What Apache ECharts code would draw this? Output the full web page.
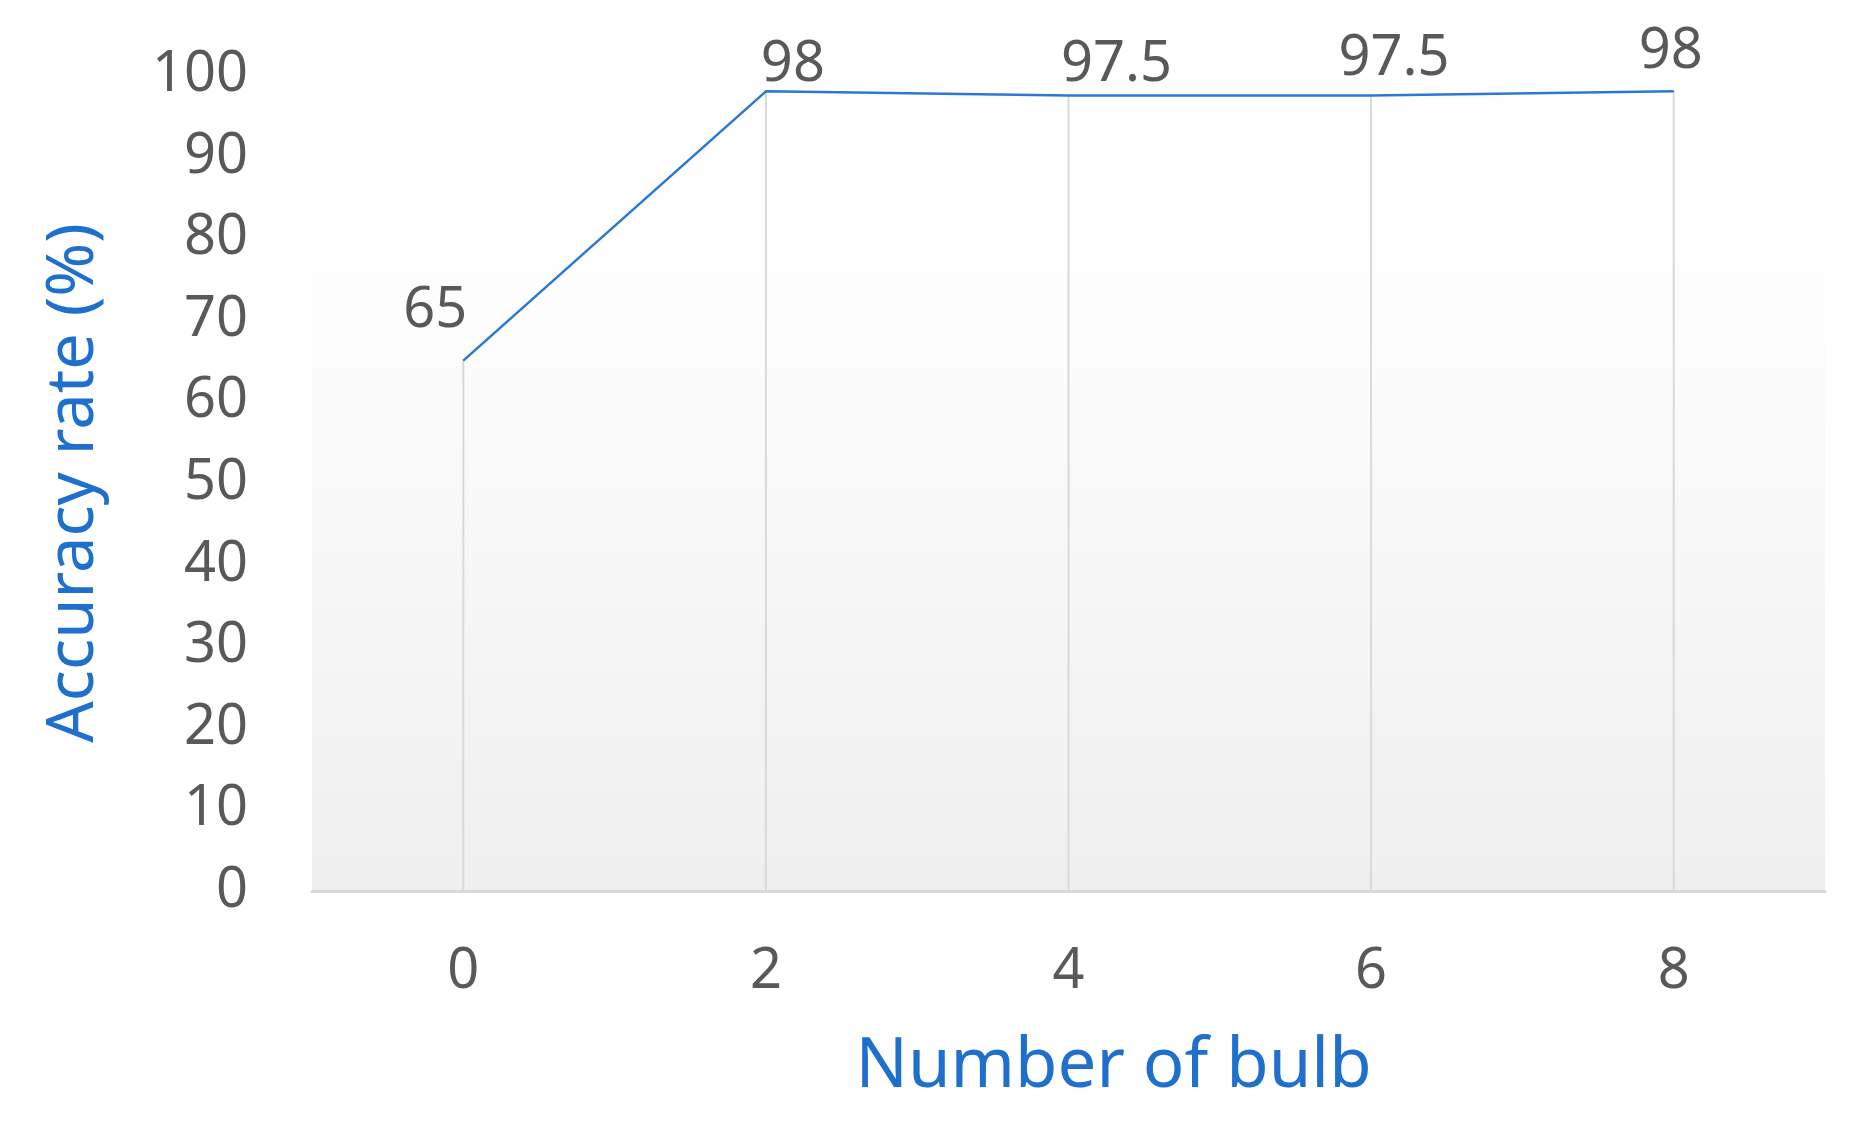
<!DOCTYPE html>
<html>
<head>
<meta charset="utf-8">
<script src="https://cdn.jsdelivr.net/npm/echarts@6/dist/echarts.min.js"></script>
<style>html,body{margin:0;padding:0;background:#fff;}#c{width:1862px;height:1122px;}</style>
</head>
<body>
<div id="c"></div>
<script>
var categories = ['0', '2', '4', '6', '8'];
var accuracy = [65, 98, 97.5, 97.5, 98];
var yTicks = [0, 10, 20, 30, 40, 50, 60, 70, 80, 90, 100];
var xTitle = 'Number of bulb';
var yTitle = 'Accuracy rate (%)';
// label placement (style only)
var labelOffsets = [[-28, -50], [27, -26], [48, -30], [23, -36], [-3, -39]];

var chart = echarts.init(document.getElementById('c'));
var FONT = 'Noto Sans';
var lineData = accuracy.map(function (v, i) {
  return { value: v, label: { offset: labelOffsets[i] } };
});
chart.setOption({
  animation: false,
  backgroundColor: '#ffffff',
  grid: {
    left: 312, right: 37, top: 75, bottom: 231,
    show: true, borderWidth: 0,
    backgroundColor: {
      type: 'linear', x: 0, y: 0, x2: 0, y2: 1,
      colorStops: [
        { offset: 0, color: '#ffffff' },
        { offset: 0.3, color: '#fdfdfd' },
        { offset: 1, color: '#efefef' }
      ]
    }
  },
  xAxis: {
    type: 'category',
    data: categories,
    boundaryGap: true,
    name: xTitle,
    nameLocation: 'middle',
    nameGap: 142,
    nameTextStyle: { color: '#1f6fcc', fontSize: 69, fontFamily: FONT, padding: [0, 0, 0, 90] },
    axisLine: { show: true, lineStyle: { color: '#d9d9d9', width: 3 } },
    axisTick: { show: false },
    splitLine: { show: false },
    axisLabel: { color: '#595959', fontSize: 56, fontFamily: FONT, margin: 53 }
  },
  yAxis: {
    type: 'value',
    min: yTicks[0],
    max: yTicks[yTicks.length - 1],
    interval: yTicks[1] - yTicks[0],
    name: yTitle,
    nameLocation: 'middle',
    nameGap: 205,
    nameRotate: 90,
    nameTextStyle: { color: '#1f6fcc', fontSize: 65, fontFamily: FONT },
    axisLine: { show: false },
    axisTick: { show: false },
    splitLine: { show: false },
    axisLabel: { color: '#595959', fontSize: 56, fontFamily: FONT, margin: 64 }
  },
  series: [
    {
      type: 'bar',
      data: accuracy,
      barWidth: 2,
      silent: true,
      itemStyle: { color: '#d9d9d9' },
      z: 1
    },
    {
      type: 'line',
      data: lineData,
      symbol: 'circle',
      symbolSize: 1,
      itemStyle: { color: '#2b78d2' },
      lineStyle: { color: '#2b78d2', width: 2.5 },
      label: {
        show: true,
        position: 'inside',
        color: '#595959',
        fontSize: 56,
        fontFamily: FONT
      },
      z: 3
    }
  ]
});
</script>
</body>
</html>
